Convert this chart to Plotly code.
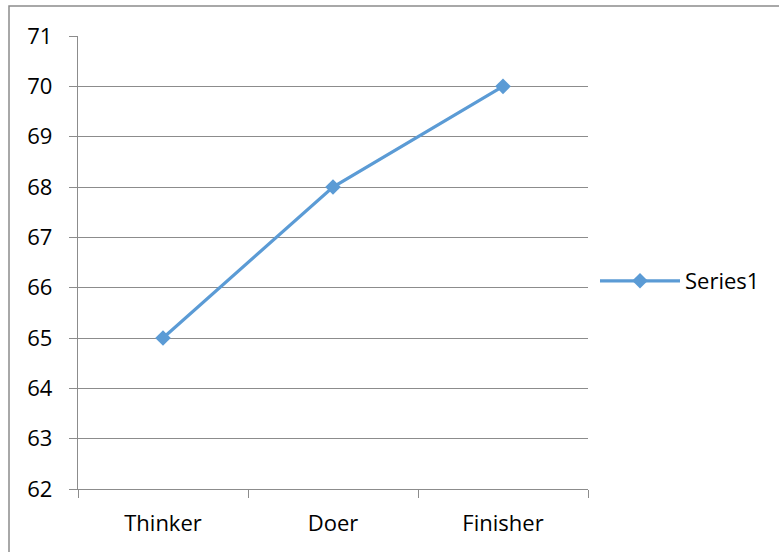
import plotly.graph_objects as go

# Scores by role
categories = ["Thinker", "Doer", "Finisher"]
series1 = [65, 68, 70]
y_ticks = [62, 63, 64, 65, 66, 67, 68, 69, 70, 71]

W, H = 779, 552
L, R, T, B = 78, 191, 36, 63
pw, ph = W - L - R, H - T - B

fig = go.Figure()
fig.add_trace(go.Scatter(
    x=categories, y=series1, name="Series1", mode="lines+markers",
    line=dict(color="#5B9BD5", width=3.2),
    marker=dict(symbol="diamond", size=12, color="#5B9BD5"),
))

font = dict(family="Open Sans, Noto Sans, sans-serif", size=22, color="#000000")

fig.update_layout(
    width=W, height=H,
    margin=dict(l=L, r=R, t=T, b=B, autoexpand=False),
    paper_bgcolor="white", plot_bgcolor="white",
    font=font,
    showlegend=True,
    legend=dict(x=(595 - L) / pw, y=(H - B - 281) / ph,
                xanchor="left", yanchor="middle",
                itemwidth=80, font=font, bgcolor="rgba(0,0,0,0)"),
    xaxis=dict(
        type="category", range=[-0.5, 2.5],
        showline=True, linecolor="#8c8c8c", linewidth=1.3,
        ticks="outside", tickson="boundaries", ticklen=8, tickcolor="#8c8c8c",
        showgrid=False, zeroline=False, ticklabelstandoff=14,
    ),
    yaxis=dict(
        range=[62, 71], tickvals=y_ticks,
        showline=True, linecolor="#8c8c8c", linewidth=1.3,
        ticks="outside", ticklen=8, tickcolor="#8c8c8c",
        showgrid=True, gridcolor="#8c8c8c", gridwidth=1.3,
        zeroline=False, ticklabelstandoff=12,
    ),
)

# Chart-area border
fig.add_shape(
    type="rect", xref="paper", yref="paper",
    x0=(9 - L) / pw, x1=(W + 10 - L) / pw,
    y0=(H - B - (H + 10)) / ph, y1=(H - B - 6) / ph,
    line=dict(color="#8c8c8c", width=1.5), fillcolor="rgba(0,0,0,0)",
    layer="below",
)

fig.write_html("out.html")
